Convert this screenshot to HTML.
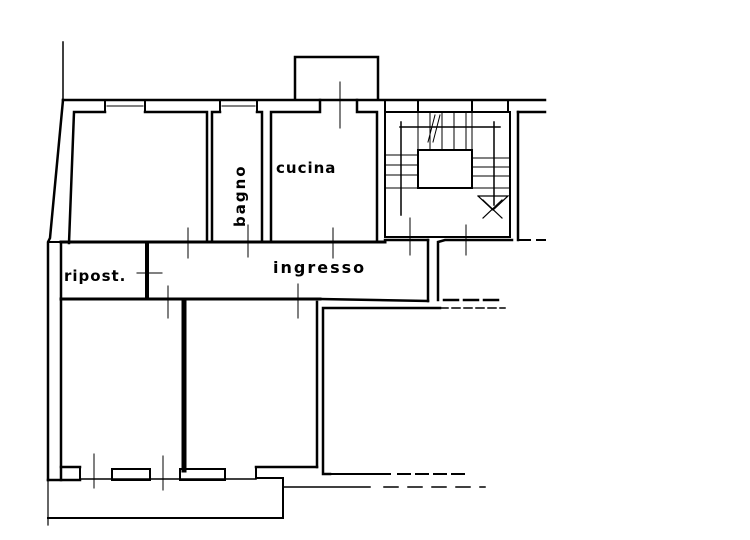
<!DOCTYPE html>
<html><head><style>html,body{margin:0;padding:0;background:#fff}svg{display:block}
text{font-family:"DejaVu Sans","Liberation Sans",sans-serif;font-weight:bold;fill:#000}</style></head>
<body>
<svg width="750" height="540" viewBox="0 0 750 540" xmlns="http://www.w3.org/2000/svg">
<g stroke="#000" fill="none" stroke-linecap="square">
<line x1="63" y1="42" x2="63" y2="100" stroke-width="1.5"/>
<line x1="63" y1="100" x2="545" y2="100" stroke-width="2.5"/>
<polyline points="295,98 295,57 378,57 378,98" stroke-width="2.5"/>
<polyline points="63,100 50,238 48,242 48,480" stroke-width="2.5"/>
<line x1="48" y1="480" x2="48" y2="525" stroke-width="1.2"/>
<polyline points="105,112 74,112 69,243" stroke-width="2.5"/>
<polyline points="145,112 207,112 207,242" stroke-width="2.5"/>
<line x1="105" y1="100" x2="105" y2="112" stroke-width="2"/>
<line x1="145" y1="100" x2="145" y2="112" stroke-width="2"/>
<line x1="107" y1="106" x2="143" y2="106" stroke-width="1"/>
<line x1="220" y1="100" x2="220" y2="112" stroke-width="2"/>
<line x1="257" y1="100" x2="257" y2="112" stroke-width="2"/>
<line x1="222" y1="106" x2="255" y2="106" stroke-width="1"/>
<polyline points="212,242 212,112 220,112" stroke-width="2.5"/>
<polyline points="257,112 262,112 262,242" stroke-width="2.5"/>
<polyline points="271,242 271,112 320,112 320,100" stroke-width="2.5"/>
<polyline points="357,100 357,112 377,112 377,242" stroke-width="2.5"/>
<line x1="340" y1="82" x2="340" y2="128" stroke-width="1"/>
<line x1="61" y1="242" x2="385" y2="242" stroke-width="3"/>
<line x1="48" y1="242" x2="61" y2="242" stroke-width="2"/>
<line x1="61" y1="242" x2="61" y2="480" stroke-width="2.5"/>
<line x1="147" y1="245" x2="147" y2="298" stroke-width="4"/>
<line x1="61" y1="299" x2="320" y2="299" stroke-width="3"/>
<line x1="320" y1="299" x2="428" y2="301" stroke-width="2.5"/>
<polyline points="428,301 428,240" stroke-width="2.5"/>
<polyline points="438,300 438,242 445,240 512,240" stroke-width="2.5"/>
<line x1="385" y1="240" x2="428" y2="240" stroke-width="2.5"/>
<line x1="444" y1="300" x2="500" y2="300" stroke-width="2.5" stroke-dasharray="14,6"/>
<rect x="385" y="112" width="125" height="125" stroke-width="2"/>
<line x1="385" y1="100" x2="385" y2="112" stroke-width="2"/>
<line x1="418" y1="100" x2="418" y2="112" stroke-width="2"/>
<line x1="472" y1="100" x2="472" y2="112" stroke-width="2"/>
<line x1="508" y1="100" x2="508" y2="112" stroke-width="2"/>
<line x1="518" y1="112" x2="518" y2="240" stroke-width="2.5"/>
<line x1="518" y1="112" x2="545" y2="112" stroke-width="2.5"/>
<line x1="518" y1="240" x2="530" y2="240" stroke-width="2"/>
<line x1="537" y1="240" x2="545" y2="240" stroke-width="2"/>
<rect x="418" y="150" width="54" height="38" stroke-width="2"/>
<line x1="400" y1="127" x2="500" y2="127" stroke-width="1.5"/>
<g stroke-width="1">
<line x1="418" y1="112" x2="418" y2="150"/><line x1="430" y1="112" x2="430" y2="150"/>
<line x1="442" y1="112" x2="442" y2="150"/><line x1="454" y1="112" x2="454" y2="150"/>
<line x1="466" y1="112" x2="466" y2="150"/><line x1="472" y1="112" x2="472" y2="150"/>
<line x1="385" y1="155" x2="418" y2="155"/><line x1="385" y1="165" x2="418" y2="165"/>
<line x1="385" y1="175" x2="418" y2="175"/><line x1="385" y1="188" x2="418" y2="188"/>
<line x1="472" y1="158" x2="510" y2="158"/><line x1="472" y1="167" x2="510" y2="167"/>
<line x1="472" y1="176" x2="510" y2="176"/><line x1="472" y1="188" x2="510" y2="188"/>
<line x1="435" y1="115" x2="428" y2="142"/><line x1="440" y1="115" x2="433" y2="142"/>
</g>
<line x1="401" y1="122" x2="401" y2="215" stroke-width="1.5"/>
<line x1="494" y1="122" x2="494" y2="205" stroke-width="1.5"/>
<polyline points="478,196 508,196 493,210 478,196" stroke-width="1.2"/>
<line x1="483" y1="218" x2="502" y2="200" stroke-width="1.2"/>
<line x1="483" y1="200" x2="502" y2="218" stroke-width="1.2"/>
<line x1="410" y1="218" x2="410" y2="255" stroke-width="1"/>
<line x1="466" y1="225" x2="466" y2="255" stroke-width="1"/>
<line x1="184" y1="302" x2="184" y2="470" stroke-width="5"/>
<line x1="317" y1="302" x2="317" y2="467" stroke-width="2.5"/>
<line x1="61" y1="467" x2="80" y2="467" stroke-width="2.5"/>
<line x1="256" y1="467" x2="317" y2="467" stroke-width="2.5"/>
<line x1="48" y1="480" x2="80" y2="480" stroke-width="2.5"/>
<line x1="80" y1="467" x2="80" y2="480" stroke-width="2"/>
<rect x="112" y="469" width="38" height="11" stroke-width="2"/>
<rect x="180" y="469" width="45" height="11" stroke-width="2"/>
<line x1="80" y1="479" x2="256" y2="479" stroke-width="1.5"/>
<polyline points="256,467 256,478 283,478 283,518 48,518" stroke-width="2"/>
<line x1="283" y1="487" x2="370" y2="487" stroke-width="1.5"/>
<line x1="384" y1="487" x2="485" y2="487" stroke-width="1.5" stroke-dasharray="14,10"/>
<polyline points="330,474 323,474 323,308 440,308" stroke-width="2.5"/>
<line x1="440" y1="308" x2="505" y2="308" stroke-width="1.5" stroke-dasharray="8,4"/>
<line x1="330" y1="474" x2="390" y2="474" stroke-width="2"/>
<line x1="398" y1="474" x2="470" y2="474" stroke-width="2" stroke-dasharray="12,6"/>
<g stroke-width="1">
<line x1="188" y1="228" x2="188" y2="258"/><line x1="175" y1="242" x2="200" y2="242"/>
<line x1="248" y1="225" x2="248" y2="257"/><line x1="235" y1="242" x2="260" y2="242"/>
<line x1="333" y1="228" x2="333" y2="258"/><line x1="320" y1="242" x2="345" y2="242"/>
<line x1="147" y1="262" x2="147" y2="288"/><line x1="137" y1="273" x2="162" y2="273"/>
<line x1="168" y1="286" x2="168" y2="318"/>
<line x1="298" y1="284" x2="298" y2="318"/>
<line x1="94" y1="454" x2="94" y2="488"/>
<line x1="163" y1="456" x2="163" y2="490"/>
</g>
</g>
<text x="64" y="281" font-size="15" letter-spacing="1">ripost.</text>
<text x="276" y="173" font-size="15" letter-spacing="1">cucina</text>
<text x="273" y="273" font-size="16" letter-spacing="2">ingresso</text>
<text transform="translate(245,227) rotate(-90)" x="0" y="0" font-size="15" letter-spacing="2">bagno</text>
</svg>
</body></html>
